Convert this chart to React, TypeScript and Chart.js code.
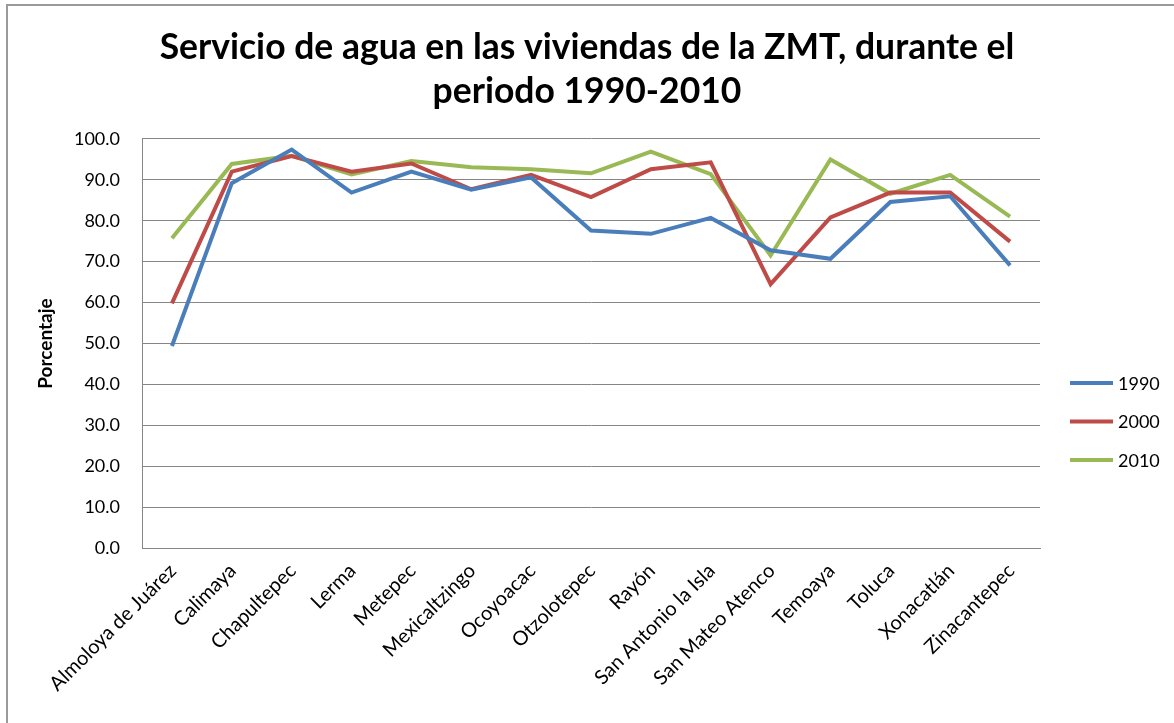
import React, { useEffect, useRef } from 'react';
import { Chart, registerables } from 'chart.js';
Chart.register(...registerables);

const categories = [
  'Almoloya de Juárez', 'Calimaya', 'Chapultepec', 'Lerma', 'Metepec', 'Mexicaltzingo',
  'Ocoyoacac', 'Otzolotepec', 'Rayón', 'San Antonio la Isla', 'San Mateo Atenco',
  'Temoaya', 'Toluca', 'Xonacatlán', 'Zinacantepec',
];
const seriesNames = ['1990', '2000', '2010'];
const values1990 = [49.4, 89.2, 97.4, 86.9, 92.0, 87.6, 90.6, 77.6, 76.8, 80.7, 72.8, 70.7, 84.6, 86.0, 69.1];
const values2000 = [59.8, 92.0, 95.8, 92.0, 94.0, 87.7, 91.2, 85.8, 92.6, 94.3, 64.5, 80.8, 86.9, 86.9, 74.9];
const values2010 = [75.7, 93.9, 95.9, 91.3, 94.6, 93.1, 92.6, 91.6, 96.9, 91.4, 71.5, 95.0, 86.6, 91.2, 81.0];
const yTicks = [0, 10, 20, 30, 40, 50, 60, 70, 80, 90, 100];

const colors = ['#4A7EBB', '#BE4B48', '#98B954'];
const FONT = 'Lato, "Open Sans", sans-serif';

const legendPlugin = {
  id: 'customLegend',
  afterDraw(chart: any) {
    const ctx = chart.ctx;
    ctx.save();
    chart.data.datasets.forEach((ds: any, i: number) => {
      const y = 383 + i * 38.5;
      ctx.strokeStyle = ds.borderColor;
      ctx.lineWidth = 4;
      ctx.beginPath();
      ctx.moveTo(1070, y);
      ctx.lineTo(1113, y);
      ctx.stroke();
      ctx.fillStyle = '#000';
      ctx.font = `18px ${FONT}`;
      ctx.textBaseline = 'middle';
      ctx.textAlign = 'left';
      ctx.fillText(ds.label, 1118, y + 1);
    });
    ctx.restore();
  },
};

export default function App() {
  const ref = useRef<HTMLCanvasElement | null>(null);
  useEffect(() => {
    if (!ref.current) return;
    const chart = new Chart(ref.current, {
      type: 'line',
      data: {
        labels: categories,
        datasets: [values1990, values2000, values2010].map((d, i) => ({
          label: seriesNames[i],
          data: d,
          borderColor: colors[i],
          backgroundColor: colors[i],
          borderWidth: 4,
          pointRadius: 0,
          tension: 0,
          fill: false,
          yAxisID: 'y',
        })),
      },
      options: {
        responsive: false,
        animation: false,
        layout: { padding: 0 },
        plugins: {
          legend: { display: false },
          tooltip: { enabled: false },
          title: {
            display: true,
            text: ['Servicio de agua en las viviendas de la ZMT, durante el', 'periodo 1990-2010'],
            color: '#000',
            font: { family: FONT, size: 35.5, weight: 'bold', lineHeight: 1.253 },
            padding: { top: 25, bottom: 25 },
          },
        },
        scales: {
          x: {
            type: 'category',
            offset: true,
            grid: { display: false, drawTicks: false },
            border: { display: true, color: '#868686', width: 1 },
            ticks: {
              color: '#000',
              font: { family: FONT, size: 20 },
              minRotation: 45,
              maxRotation: 45,
              autoSkip: false,
              padding: 11,
              labelOffset: 1,
            },
            afterFit(scale: any) { scale.height = 175; },
          },
          y: {
            position: 'left',
            min: 0,
            max: 100,
            afterBuildTicks(scale: any) { scale.ticks = yTicks.map((v) => ({ value: v })); },
            grid: { color: '#868686', lineWidth: 1, drawTicks: false },
            border: { display: true, color: '#868686', width: 1 },
            ticks: {
              color: '#000',
              font: { family: FONT, size: 18 },
              padding: 22,
              callback: (v: any) => Number(v).toFixed(1),
            },
            title: {
              display: true,
              text: 'Porcentaje',
              color: '#000',
              font: { family: FONT, size: 19, weight: 'bold' },
              padding: { top: 34, bottom: 0 },
            },
            afterFit(scale: any) { scale.width = 142; },
          },
          legendSpace: {
            type: 'linear',
            position: 'right',
            display: true,
            grid: { display: false, drawTicks: false },
            border: { display: false },
            ticks: { display: false },
            afterFit(scale: any) { scale.width = 134; },
          },
        },
      },
      plugins: [legendPlugin],
    });
    return () => chart.destroy();
  }, []);
  return (
    <div style={{ position: 'absolute', left: 0, top: 0, width: 1174, height: 723, background: '#fff' }}>
      <div style={{ position: 'absolute', left: 6, top: 4, right: 0, bottom: 0, borderTop: '2px solid #9a9a9a', borderLeft: '2px solid #9a9a9a' }} />
      <canvas ref={ref} width={1174} height={723} style={{ position: 'absolute', left: 0, top: 0 }} />
    </div>
  );
}
